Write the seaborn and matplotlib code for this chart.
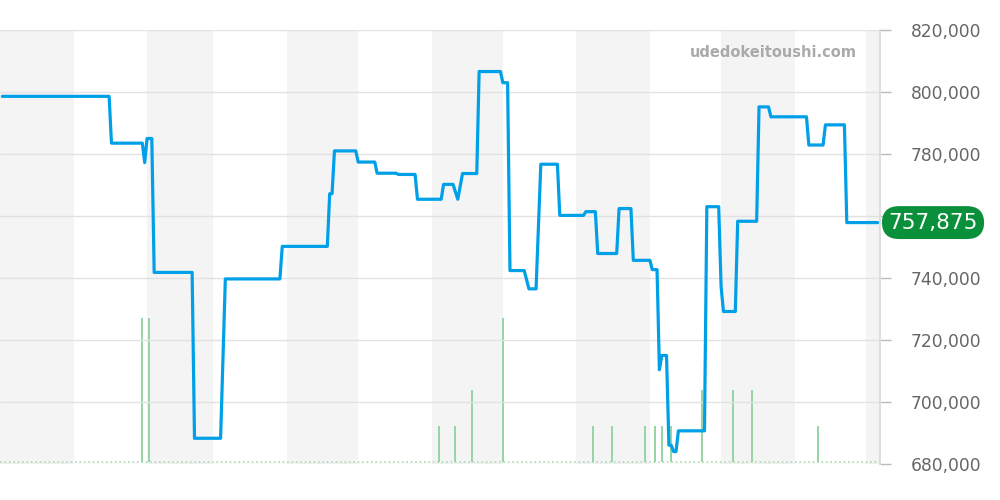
import matplotlib
matplotlib.use('Agg')
import matplotlib.pyplot as plt
import seaborn as sns
import pandas as pd
import numpy as np

# price history (step changes)
price_dates = [
    "2024-12-02", "2025-01-16", "2025-01-17", "2025-01-30", "2025-01-31", "2025-02-01",
    "2025-02-03", "2025-02-04", "2025-02-20", "2025-02-21", "2025-03-04", "2025-03-06",
    "2025-03-29", "2025-03-30", "2025-04-18", "2025-04-19", "2025-04-20", "2025-04-21",
    "2025-04-30", "2025-05-01", "2025-05-08", "2025-05-09", "2025-05-17", "2025-05-18",
    "2025-05-25", "2025-05-26", "2025-06-05", "2025-06-06", "2025-06-10", "2025-06-12",
    "2025-06-14", "2025-06-20", "2025-06-21", "2025-06-30", "2025-07-01", "2025-07-03",
    "2025-07-04", "2025-07-10", "2025-07-12", "2025-07-15", "2025-07-17", "2025-07-24",
    "2025-07-25", "2025-08-04", "2025-08-05", "2025-08-09", "2025-08-10", "2025-08-18",
    "2025-08-19", "2025-08-24", "2025-08-25", "2025-09-01", "2025-09-02", "2025-09-04",
    "2025-09-05", "2025-09-06", "2025-09-08", "2025-09-09", "2025-09-10", "2025-09-11",
    "2025-09-12", "2025-09-13", "2025-09-24", "2025-09-25", "2025-09-30", "2025-10-01",
    "2025-10-02", "2025-10-07", "2025-10-08", "2025-10-16", "2025-10-17", "2025-10-21",
    "2025-10-22", "2025-11-06", "2025-11-07", "2025-11-13", "2025-11-14", "2025-11-22",
    "2025-11-23", "2025-12-06",
]
prices = [
    798600, 798600, 783500, 783500, 777200, 785000,
    785000, 741800, 741800, 688300, 688300, 739700,
    739700, 750200, 750200, 767200, 767200, 781000,
    781000, 777400, 777400, 773800, 773800, 773400,
    773400, 765400, 765400, 770200, 770200, 765400,
    773700, 773700, 806600, 806600, 803000, 803000,
    742400, 742400, 736500, 736500, 776700, 776700,
    760200, 760200, 761400, 761400, 747900, 747900,
    762400, 762400, 745700, 745700, 742700, 742700,
    710400, 715000, 715000, 686100, 686000, 684000,
    684000, 690700, 690700, 763000, 763000, 737300,
    729200, 729200, 758300, 758300, 795200, 795200,
    792000, 792000, 782900, 782900, 789400, 789400,
    757875, 757875,
]

# trade volume markers
vol_dates = ["2025-01-30", "2025-02-02", "2025-06-04", "2025-06-11", "2025-06-18",
             "2025-07-01", "2025-08-08", "2025-08-16", "2025-08-30", "2025-09-03",
             "2025-09-06", "2025-09-10", "2025-09-23", "2025-10-06", "2025-10-14",
             "2025-11-11"]
vols = [4, 4, 1, 1, 2, 4, 1, 1, 1, 1, 1, 1, 2, 2, 2, 1]

month_labels = ["2025", "2", "3", "4", "5", "6", "7", "8", "9", "10", "11", "12"]
last_price = 757875

sns.set_theme(style="white")

fig = plt.figure(figsize=(10, 5), dpi=100)
ax2 = fig.add_axes([0.0, 0.072, 0.88, 0.868])
ax = ax2.twinx()
ax.set_zorder(ax2.get_zorder() + 1)
ax.patch.set_visible(False)

pdates = pd.to_datetime(price_dates)
xmin, xmax = pd.Timestamp("2024-12-01"), pd.Timestamp("2025-12-07")

# alternating month shading
month_starts = pd.date_range("2024-12-01", "2026-01-01", freq="MS")
for i in range(0, len(month_starts) - 1, 2):
    ax2.axvspan(month_starts[i], month_starts[i + 1], color="#f4f4f4", lw=0, zorder=0)

# volume
days = pd.date_range(xmin, xmax, freq="D")
ax2.plot(days, np.zeros(len(days)), ls=":", lw=1.2, color="#a9dcb3", zorder=1)
ax2.vlines(pd.to_datetime(vol_dates), 0, vols, color="#95d5a2", lw=1.4, zorder=2)
ax2.set_ylim(-0.05, 12)
ax2.set_yticks([])

# price line
sns.lineplot(x=pdates, y=prices, ax=ax, color="#00a0e9", lw=2.3, zorder=5)
ax.set_ylim(680000, 820000)
ax.set_xlim(xmin, xmax)
ax2.set_xlim(xmin, xmax)
yticks = np.arange(680000, 820001, 20000)
ax.set_yticks(yticks)
# the 760,000 label sits under the last-price badge
ax.set_yticklabels(["" if v == 760000 else f"{v:,}" for v in yticks])
ax.yaxis.tick_right()
ax.grid(axis="y", color="#e2e2e2", lw=1)
ax.set_xlabel("")
ax.set_ylabel("")

ticks = pd.date_range("2025-01-01", "2025-12-01", freq="MS")
ax2.set_xticks(ticks)
ax2.set_xticklabels(month_labels)
ax.set_xticks([])
ax2.tick_params(axis="x", bottom=True, length=5, width=1, color="#aaaaaa",
                labelsize=12.3, labelcolor="#666666", pad=5)
ax.tick_params(axis="y", right=True, length=8, width=1, color="#bbbbbb",
               labelsize=12.3, labelcolor="#666666", pad=14)

for a in (ax, ax2):
    for s in ("top", "left", "bottom"):
        a.spines[s].set_visible(False)
    a.spines["right"].set_color("#dddddd")

ax.text(0.974, 0.949, "udedokeitoushi.com", transform=ax.transAxes, ha="right", va="center",
        fontsize=10.5, fontweight="bold", color="#aaaaaa")

ax.annotate(f"{last_price:,}", xy=(1.0, last_price), xycoords=("axes fraction", "data"),
            xytext=(6, 0), textcoords="offset points", ha="left", va="center",
            fontsize=15.5, color="white",
            bbox=dict(boxstyle="round,pad=0.3,rounding_size=0.8", fc="#0a8f3a", ec="none"),
            annotation_clip=False)

plt.savefig("out.png", dpi=100)
plt.close()
